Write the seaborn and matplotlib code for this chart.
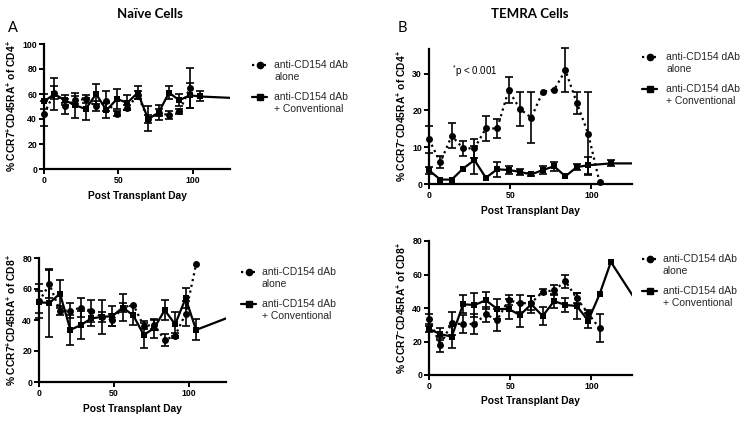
import numpy as np
import pandas as pd
import matplotlib
matplotlib.use("Agg")
import matplotlib.pyplot as plt
import seaborn as sns
from matplotlib.lines import Line2D
from matplotlib.legend_handler import HandlerLine2D

nan = np.nan

# ---------------- data ----------------
# Panel A top: Naive CD4
naive_cd4_alone_days = [0, 7, 14, 21, 28, 35, 42, 49, 56, 63, 70, 77, 84, 91, 98]
naive_cd4_alone = [44, 61, 50, 55, 56, 50, 54, 44, 49, 59, 40, 45, 43, 46, 65]
naive_cd4_alone_err = [10, 5, 6, 3, 3, 4, 8, 2, 2, 3, 3, 3, 3, 2, 16]
naive_cd4_conv_days = [0, 7, 14, 21, 28, 35, 42, 49, 56, 63, 70, 77, 84, 91, 98, 105, 133]
naive_cd4_conv = [54, 60, 55, 51, 48, 60, 47, 56, 53, 61, 40, 45, 61, 55, 59, 58, 56.5]
naive_cd4_conv_err = [6, 13, 4, 10, 9, 8, 6, 8, 6, 5, 10, 6, 5, 5, 10, 4, nan]

# Panel B top: TEMRA CD4
temra_cd4_alone_days = [0, 7, 14, 21, 28, 35, 42, 49, 56, 63, 70, 77, 84, 91, 98, 105]
temra_cd4_alone = [12.1, 5.9, 13.1, 9.7, 9.7, 15.1, 15.1, 25.5, 20.4, 18.0, 25.1, 25.6, 30.9, 22.1, 13.7, 0.5]
temra_cd4_alone_err = [3.7, 1.6, 3.4, 2.1, 2.5, 3.5, 2.6, 3.5, 4.5, 6.9, nan, nan, 6.0, 3.0, 11.3, nan]
temra_cd4_conv_days = [0, 7, 14, 21, 28, 35, 42, 49, 56, 63, 70, 77, 84, 91, 98, 112, 133]
temra_cd4_conv = [3.7, 1.2, 1.2, 4.2, 6.5, 1.7, 4.0, 3.8, 3.3, 2.6, 3.8, 4.8, 2.1, 4.6, 5.1, 5.6, 5.6]
temra_cd4_conv_err = [1.0, nan, nan, nan, 3.8, nan, 2.0, 1.0, 0.8, 0.5, 1.0, 1.2, nan, 0.8, 2.3, 0.8, nan]

# Panel A bottom: Naive CD8
naive_cd8_alone_days = [0, 7, 14, 21, 28, 35, 42, 49, 56, 63, 70, 77, 84, 91, 98, 105]
naive_cd8_alone = [52, 63, 46, 46, 48, 46, 42, 40, 48, 50, 36, 37, 27, 30, 44, 76]
naive_cd8_alone_err = [11, 9, 3, 5, 6, 7, 3, 4, 3, nan, 2, 3, 3.8, 1.5, 8, nan]
naive_cd8_conv_days = [0, 7, 14, 21, 28, 35, 42, 49, 56, 63, 70, 77, 84, 91, 98, 105, 133]
naive_cd8_conv = [51.4, 51, 57, 33.6, 36.8, 41, 42, 42.5, 48, 43, 30.4, 34.7, 46.4, 37.2, 54, 33.6, 44]
naive_cd8_conv_err = [7, 21.7, 9, 9.5, 9, 5, 11, 6.5, 8.5, 6, 8.7, 6, 6.6, 7.7, 6.5, 6.8, nan]

# Panel B bottom: TEMRA CD8
temra_cd8_alone_days = [0, 7, 14, 21, 28, 35, 42, 49, 56, 63, 70, 77, 84, 91, 98, 105]
temra_cd8_alone = [33.5, 18, 30.9, 30.3, 30.5, 36.2, 32.9, 44.7, 42.8, 43, 49.7, 50.5, 56, 45.7, 36.8, 27.9]
temra_cd8_alone_err = [3, 4, 7, 5.5, 6, 4.5, 6.5, 3, 5, 4, 1.5, 3, 4, 3, 2, 8.4]
temra_cd8_conv_days = [0, 7, 14, 21, 28, 35, 42, 49, 56, 63, 70, 77, 84, 91, 98, 105, 112, 133]
temra_cd8_conv = [27.5, 24.4, 22.9, 42.2, 41.8, 44.6, 39.4, 39.4, 35.8, 42.2, 35.2, 44.1, 41.8, 41.2, 32.5, 48.1, 67.5, 36]
temra_cd8_conv_err = [2, 3.5, 6.5, 5.3, 7, 5, 6, 6, 7, 5, 5.5, 4, 4, 7.5, 4.5, nan, nan, nan]

legend_labels = ["anti-CD154 dAb\nalone", "anti-CD154 dAb\n+ Conventional"]
x_ticks = [0, 50, 100]
x_max = 125

# ---------------- style ----------------
sns.set_theme(style="ticks")
plt.rcParams["font.family"] = ["Liberation Sans", "DejaVu Sans"]
plt.rcParams["mathtext.fontset"] = "custom"
plt.rcParams["mathtext.rm"] = "Liberation Sans"
plt.rcParams["mathtext.it"] = "Liberation Sans:italic"
plt.rcParams["mathtext.bf"] = "Liberation Sans:bold"

W, H = 754, 423
fig = plt.figure(figsize=(W / 100, H / 100), dpi=100)


def px_axes(left, top, right, bottom):
    return fig.add_axes([left / W, 1 - bottom / H, (right - left) / W, (bottom - top) / H])


class FirstLineHandler(HandlerLine2D):
    def __init__(self, shift, **kw):
        super().__init__(**kw)
        self.shift = shift

    def create_artists(self, legend, orig_handle, xdescent, ydescent, width, height, fontsize, trans):
        arts = super().create_artists(legend, orig_handle, xdescent, ydescent, width, height, fontsize, trans)
        for a in arts:
            a.set_ydata(np.asarray(a.get_ydata(), float) + self.shift)
        return arts


LW = 1.6
MS = 5.0
LEG_FS = 7.5


def draw_series(ax, days, vals, errs, ls, marker):
    df = pd.DataFrame({"day": days, "val": vals, "err": errs})
    sns.lineplot(data=df, x="day", y="val", ax=ax, color="black", linestyle=ls,
                 linewidth=LW, errorbar=None, sort=True)
    inside = df[df["day"] <= x_max]
    sns.scatterplot(data=inside, x="day", y="val", ax=ax, color="black", marker=marker,
                    s=MS ** 2, edgecolor="black", linewidth=0, clip_on=False, zorder=5)
    e = inside.dropna(subset=["err"])
    ax.errorbar(e["day"], e["val"], yerr=e["err"], fmt="none", ecolor="black",
                elinewidth=1.2, capsize=3, capthick=1.2, clip_on=False, zorder=4)


def setup_panel(ax, ylabel, ymax, yticks, leg_x, leg_top, text_gap_px):
    ax.set_xlim(0, x_max)
    ax.set_ylim(0, ymax)
    ax.set_xticks(x_ticks)
    ax.set_yticks(yticks)
    sns.despine(ax=ax)
    for s in ["left", "bottom"]:
        ax.spines[s].set_linewidth(1.6)
        ax.spines[s].set_color("black")
    ax.tick_params(axis="both", direction="out", length=3.5, width=1.4, color="black",
                   labelsize=6.3, pad=1.5, labelcolor="black")
    for lab in ax.get_xticklabels() + ax.get_yticklabels():
        lab.set_fontweight("bold")
    ax.set_xlabel("Post Transplant Day", fontsize=7.4, fontweight="bold", labelpad=4, color="black")
    ax.set_ylabel(ylabel, fontsize=7.4, fontweight="bold", labelpad=3, color="black")
    h1 = Line2D([], [], color="black", linestyle=":", linewidth=LW, marker="o", markersize=MS - 0.5)
    h2 = Line2D([], [], color="black", linestyle="-", linewidth=LW, marker="s", markersize=MS - 0.5)
    hm = {h1: FirstLineHandler(0.62 * LEG_FS), h2: FirstLineHandler(0.62 * LEG_FS)}
    pad_em = (text_gap_px * 0.72) / LEG_FS
    ax.legend(handles=[h1, h2], labels=legend_labels, loc="upper left",
              bbox_to_anchor=(leg_x / W, 1 - leg_top / H),
              bbox_transform=fig.transFigure, frameon=False, borderpad=0, borderaxespad=0,
              handlelength=1.45, handletextpad=pad_em, labelspacing=1.0, fontsize=LEG_FS,
              handler_map=hm)


sup_p = r"$^{\mathbf{+}}$"
sup_m = r"$^{\mathbf{-}}$"

# Top-left
ax1 = px_axes(44, 44, 230, 169)
draw_series(ax1, naive_cd4_alone_days, naive_cd4_alone, naive_cd4_alone_err, ":", "o")
draw_series(ax1, naive_cd4_conv_days, naive_cd4_conv, naive_cd4_conv_err, "-", "s")
setup_panel(ax1, "% CCR7" + sup_p + "CD45RA" + sup_p + " of CD4" + sup_p, 100,
            [0, 20, 40, 60, 80, 100], 252, 60, 7)

# Top-right
ax2 = px_axes(429, 49, 632, 184)
draw_series(ax2, temra_cd4_alone_days, temra_cd4_alone, temra_cd4_alone_err, ":", "o")
draw_series(ax2, temra_cd4_conv_days, temra_cd4_conv, temra_cd4_conv_err, "-", "s")
setup_panel(ax2, "% CCR7" + sup_m + "CD45RA" + sup_p + " of CD4" + sup_p, 36.7,
            [0, 10, 20, 30], 642, 52, 9)
ax2.text(14, 30.6, r"$^{*}$p < 0.001", fontsize=7, ha="left", va="center", color="black")

# Bottom-left
ax3 = px_axes(39, 258, 226, 382)
draw_series(ax3, naive_cd8_alone_days, naive_cd8_alone, naive_cd8_alone_err, ":", "o")
draw_series(ax3, naive_cd8_conv_days, naive_cd8_conv, naive_cd8_conv_err, "-", "s")
setup_panel(ax3, "% CCR7" + sup_p + "CD45RA" + sup_p + " of CD8" + sup_p, 80,
            [0, 20, 40, 60, 80], 241, 267, 5.5)

# Bottom-right
ax4 = px_axes(429, 241, 632, 375)
draw_series(ax4, temra_cd8_alone_days, temra_cd8_alone, temra_cd8_alone_err, ":", "o")
draw_series(ax4, temra_cd8_conv_days, temra_cd8_conv, temra_cd8_conv_err, "-", "s")
setup_panel(ax4, "% CCR7" + sup_m + "CD45RA" + sup_p + " of CD8" + sup_p, 80,
            [0, 20, 40, 60, 80], 642, 254, 5.5)

# Titles and panel letters
fig.text(150 / W, 1 - 13.5 / H, "Naïve Cells", ha="center", va="center",
         fontfamily="Lato", fontweight="bold", fontsize=9.5, color="black")
fig.text(530 / W, 1 - 13.5 / H, "TEMRA Cells", ha="center", va="center",
         fontfamily="Lato", fontweight="bold", fontsize=9.5, color="black")
fig.text(8 / W, 1 - 28 / H, "A", ha="left", va="center", fontfamily="Lato", fontsize=10.5, color="black")
fig.text(398 / W, 1 - 28 / H, "B", ha="left", va="center", fontfamily="Lato", fontsize=10.5, color="black")

fig.savefig("out.png", dpi=100)
